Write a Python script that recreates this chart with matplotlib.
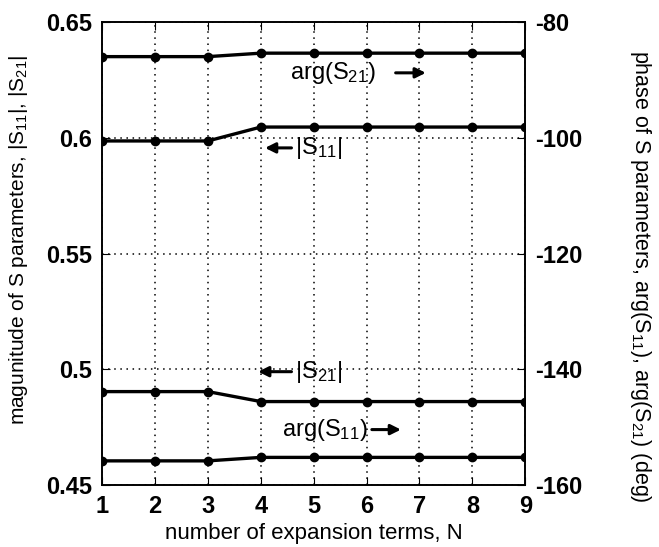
import matplotlib
matplotlib.use("Agg")
import matplotlib.pyplot as plt

plt.rcParams['font.family'] = ['Liberation Sans', 'DejaVu Sans']
plt.rcParams['mathtext.fontset'] = 'custom'
plt.rcParams['mathtext.rm'] = 'Liberation Sans'
plt.rcParams['mathtext.it'] = 'Liberation Sans'
plt.rcParams['axes.unicode_minus'] = False

# Data
N = [1, 2, 3, 4, 5, 6, 7, 8, 9]
mag_s11 = [0.5986, 0.5986, 0.5986, 0.6046, 0.6046, 0.6046, 0.6046, 0.6046, 0.6046]
mag_s21 = [0.4904, 0.4904, 0.4904, 0.4861, 0.4861, 0.4861, 0.4861, 0.4861, 0.4861]
arg_s21 = [-86.0, -86.0, -86.0, -85.4, -85.4, -85.4, -85.4, -85.4, -85.4]
arg_s11 = [-155.8, -155.8, -155.8, -155.2, -155.2, -155.2, -155.2, -155.2, -155.2]

fig = plt.figure(figsize=(6.59, 5.47), dpi=100)
ax = fig.add_axes([0.155, 0.113, 0.642, 0.847])
ax2 = ax.twinx()

line_kw = dict(color='black', linewidth=2.4, marker='o', markersize=6)
ax.plot(N, mag_s11, **line_kw)
ax.plot(N, mag_s21, **line_kw)
ax2.plot(N, arg_s21, **line_kw)
ax2.plot(N, arg_s11, **line_kw)

ax.set_xlim(1, 9)
ax.set_ylim(0.45, 0.65)
ax2.set_ylim(-160, -80)
ax.set_xticks(N)
ax.set_yticks([0.45, 0.5, 0.55, 0.6, 0.65])
ax.set_yticklabels(['0.45', '0.5', '0.55', '0.6', '0.65'])
ax2.set_yticks([-160, -140, -120, -100, -80])

ax.grid(True, linestyle=(0, (1, 3)), color='black', linewidth=1.1)
ax.tick_params(direction='in', top=True, length=6, labelsize=17, pad=7)
ax2.tick_params(direction='in', length=6, labelsize=17, pad=7)
for lbl in ax.get_xticklabels() + ax.get_yticklabels() + ax2.get_yticklabels():
    lbl.set_fontweight('bold')
for a in (ax, ax2):
    for s in a.spines.values():
        s.set_linewidth(1.2)

ax.set_xlabel('number of expansion terms, N', fontsize=16, labelpad=4)
ax.set_ylabel('magunitude of S parameters, |S$_{11}$|, |S$_{21}$|', fontsize=15,
              va='center')
ax.yaxis.set_label_coords(-0.198, 0.53)
ax2.set_ylabel('phase of S parameters, arg(S$_{11}$), arg(S$_{21}$) (deg)',
               fontsize=15.5, rotation=270, va='center')
ax2.yaxis.set_label_coords(1.272, 0.45)

# annotations with arrows
arrow_kw = dict(arrowstyle='-|>', color='black', lw=2.2, mutation_scale=15,
                shrinkA=0, shrinkB=0)
ax2.text(4.55, -88.8, 'arg(S$_{21}$)', fontsize=17, va='center', ha='left')
ax2.annotate('', xy=(7.12, -88.8), xytext=(6.55, -88.8), arrowprops=arrow_kw)

ax.text(4.64, 0.5956, '|S$_{11}$|', fontsize=17, va='center', ha='left')
ax.annotate('', xy=(4.08, 0.5956), xytext=(4.58, 0.5956), arrowprops=arrow_kw)

ax.text(4.64, 0.499, '|S$_{21}$|', fontsize=17, va='center', ha='left')
ax.annotate('', xy=(3.95, 0.499), xytext=(4.58, 0.499), arrowprops=arrow_kw)

ax2.text(4.4, -150.4, 'arg(S$_{11}$)', fontsize=17, va='center', ha='left')
ax2.annotate('', xy=(6.65, -150.4), xytext=(6.1, -150.4), arrowprops=arrow_kw)

fig.savefig('out.png', dpi=100)
